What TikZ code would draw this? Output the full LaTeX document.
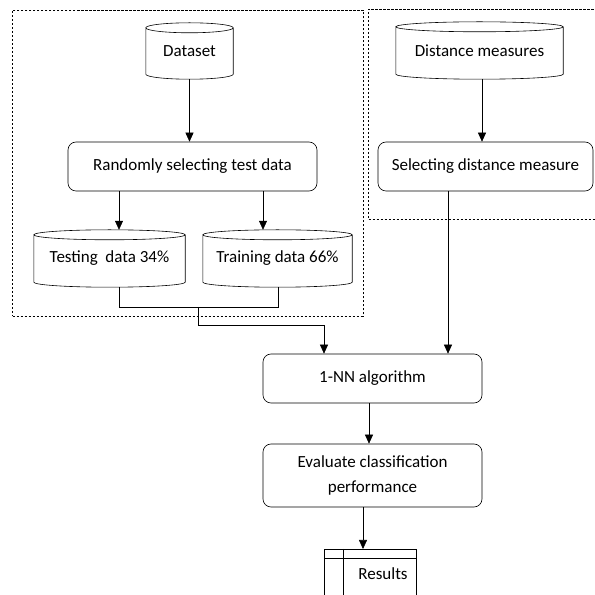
\documentclass[tikz,border=0pt]{standalone}
\usepackage{fontspec}
\setmainfont{Carlito}
\usetikzlibrary{arrows.meta,calc}
\begin{document}
\begin{tikzpicture}[x=1pt,y=1pt,
  lbl/.style={font=\fontsize{17}{25}\selectfont, inner sep=0pt, align=center},
  proc/.style={lbl, draw, rounded corners=8pt, line width=0.6pt},
  cylbox/.style={lbl},
  arr/.style={-{Triangle[length=9pt,width=8pt]}, line width=0.6pt},
  ln/.style={line width=0.6pt},
  grp/.style={draw, dashed, dash pattern=on 2.5pt off 1.5pt, line width=0.5pt}
]
\useasboundingbox (0,0) rectangle (595,595);
\clip (0,0) rectangle (595,595);
\fill[white] (0,0) rectangle (595,595);

% groups
\node[grp, minimum width=350.5pt, minimum height=306pt, inner sep=0pt] (g1) at (187.75,432) {};
\node[grp, minimum width=231.5pt, minimum height=210pt, inner sep=0pt] (g2) at (484.25,481) {};

% cylinders
\newcommand{\cylshape}[1]{%
  \draw[ln] let \p1=(#1.north west), \p2=(#1.south east) in
    (\x1,\y1-5) -- (\x1,\y2+5)
    arc[start angle=180, end angle=360, x radius={(\x2-\x1)/2}, y radius=5pt]
    -- (\x2,\y1-5)
    arc[start angle=0, end angle=180, x radius={(\x2-\x1)/2}, y radius=5pt]
    arc[start angle=180, end angle=360, x radius={(\x2-\x1)/2}, y radius=5pt];}

\node[cylbox, minimum width=87pt, minimum height=56pt] (ds) at (189.5,544) {Dataset};
\cylshape{ds}
\node[cylbox, minimum width=167pt, minimum height=57pt] (dm) at (479.5,544.5) {Distance measures};
\cylshape{dm}
\node[cylbox, minimum width=151pt, minimum height=57pt] (test) at (109.5,336.5) {Testing\ \ data 34\%};
\cylshape{test}
\node[cylbox, minimum width=149pt, minimum height=57pt] (train) at (277.5,336.5) {Training data 66\%};
\cylshape{train}

% process boxes
\node[proc, minimum width=249pt, minimum height=49pt] (rand) at (192.5,428.5) {Randomly selecting test data};
\node[proc, minimum width=215pt, minimum height=49pt] (sel) at (485.5,428.5) {Selecting distance measure};
\node[proc, minimum width=219pt, minimum height=49pt] (nn) at (372.5,216.5) {1-NN algorithm};
\node[proc, minimum width=219pt, minimum height=63pt] (eval) at (372.5,119.5) {Evaluate classification\\performance};

% results store
\node[lbl, minimum width=92pt, minimum height=80pt, anchor=north] (res) at (370,46) {};
\draw[ln] (res.north west) rectangle (res.south east);
\draw[ln] ($(res.north west)+(0,-9)$) -- ($(res.north east)+(0,-9)$);
\draw[ln] ($(res.north west)+(19,0)$) -- ($(res.south west)+(19,0)$);
\node[lbl] (restext) at (383,21) {Results};

% connectors
\draw[arr] (ds.south) -- (ds.south |- rand.north);
\draw[arr] (119,0 |- rand.south) -- (119,0 |- test.north);
\draw[arr] (263,0 |- rand.south) -- (263,0 |- train.north);
\draw[arr] (482,0 |- dm.south) -- (482,0 |- sel.north);
\coordinate (j) at (198,288);
\draw[ln] (119,0 |- test.south) -- (119,0 |- j) -- (278,0 |- j) -- (278,0 |- train.south);
\coordinate (k) at (198,270);
\draw[arr] (j) -- (k) -- (324,0 |- k) -- (324,0 |- nn.north);
\draw[arr] (448,0 |- sel.south) -- (448,0 |- nn.north);
\draw[arr] (369,0 |- nn.south) -- (369,0 |- eval.north);
\draw[arr] (363,0 |- eval.south) -- (363,0 |- res.north);
\end{tikzpicture}
\end{document}
